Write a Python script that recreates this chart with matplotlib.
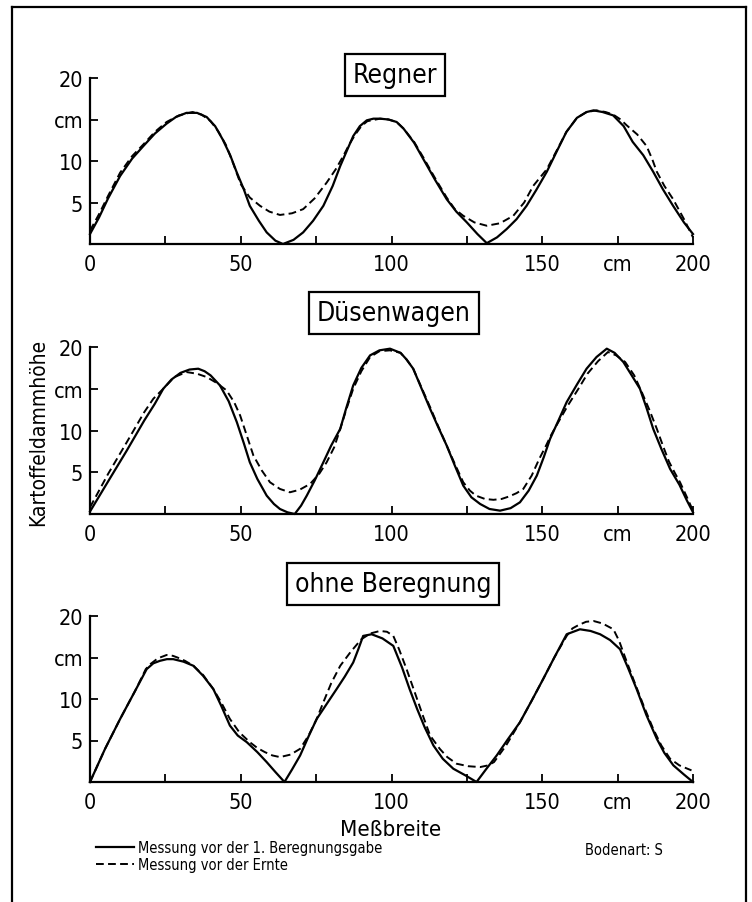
import matplotlib.pyplot as plt
from matplotlib.lines import Line2D

plt.rcParams['font.family'] = ['DejaVu Sans']
plt.rcParams['font.stretch'] = 'condensed'

W, H = 752, 903

titles = ["Regner", "Düsenwagen", "ohne Beregnung"]
label_solid = "Messung vor der 1. Beregnungsgabe"
label_dash = "Messung vor der Ernte"

reg_x1 = [0, 3, 6, 10, 14, 17.7, 21.5, 25.4, 28.5, 32, 35.5, 38.7, 41.5, 44, 46.5, 48.6, 51, 53, 56,
          58.6, 61.5, 64, 67.5, 70.7, 74, 77.4, 80.5, 83, 85.5, 87.3, 89.5, 91.8, 94, 96.2, 99,
          101.7, 104, 107.5, 110.6, 114.5, 118.3, 121.5, 125, 128.5, 131.6, 135, 138.2, 141.5,
          144.8, 148, 151.5, 155, 158, 161.5, 164.7, 167, 170, 173.5, 177, 180, 183.5, 186.8,
          190, 193.4, 197, 200]
reg_y1 = [1.2, 3.2, 5.5, 8.2, 10.3, 11.8, 13.3, 14.5, 15.3, 15.8, 15.8, 15.3, 14.2, 12.6, 10.7, 8.7,
          6.6, 4.6, 2.8, 1.4, 0.4, 0, 0.5, 1.4, 2.8, 4.6, 7, 9.4, 11.5, 13, 14.2, 14.9, 15.1, 15.1,
          15, 14.7, 13.9, 12.2, 10.2, 7.7, 5.4, 3.9, 2.6, 1.2, 0.1, 0.8, 1.8, 3, 4.6, 6.5, 8.7,
          11.3, 13.5, 15.2, 15.9, 16.1, 15.9, 15.5, 14.2, 12.3, 10.7, 8.7, 6.6, 4.6, 2.6, 1.2]
reg_x2 = [0, 3, 6, 10, 14, 17.7, 21.5, 25.4, 29.5, 34, 37, 40, 42.5, 45, 47.5, 50, 53, 56.4, 59.5,
          63, 67, 70.7, 74.5, 78.5, 81.5, 84, 86, 88, 90, 92, 96.2, 99, 101.7, 104, 107.5, 110.6,
          114.5, 118.3, 121, 123.8, 127.5, 131.6, 136, 140.4, 144, 147, 151.5, 155, 158, 161.5,
          164.7, 168, 171, 173.5, 176, 178, 181.5, 184.6, 186.5, 188, 190.5, 193.4, 197, 200]
reg_y2 = [1.6, 3.6, 5.8, 8.6, 10.6, 12, 13.5, 14.7, 15.5, 15.9, 15.6, 14.8, 13.6, 12, 9.7, 7.2, 5.6,
          4.6, 3.9, 3.5, 3.7, 4.2, 5.5, 7.4, 9, 10.6, 12, 13.2, 14.2, 14.8, 15.1, 15, 14.7, 13.9,
          12.3, 10.4, 7.9, 5.6, 4.2, 3.4, 2.6, 2.2, 2.5, 3.4, 5, 7, 9, 11.4, 13.5, 15.2, 15.9,
          16.1, 15.9, 15.6, 15, 14.3, 13.2, 11.8, 10.2, 8.7, 7, 5.4, 3, 0.8]

dus_x1 = [0, 6, 12.2, 18, 21.5, 24.3, 27, 30, 33, 35.9, 38, 40, 43.1, 46, 48.7, 51, 53, 55.5, 58.6,
          61, 63, 65.5, 67.9, 70, 71.9, 74.5, 77.4, 80, 83, 85, 87.3, 90, 92.9, 96, 99.5, 103,
          105, 107.2, 110, 112.8, 115.5, 118.3, 121, 123.8, 126.5, 129.4, 132.5, 136, 139.5,
          142.6, 145.5, 148.2, 150.5, 152.6, 155.5, 158.1, 161.5, 164.7, 168, 171.4, 174, 176.9,
          179.5, 182.4, 184.5, 186.8, 189.5, 192.4, 195.5, 198, 200]
dus_y1 = [0.3, 3.9, 7.6, 11.2, 13.2, 15, 16.1, 16.9, 17.3, 17.4, 17.1, 16.6, 15.4, 13.5, 11, 8.5,
          6.2, 4.2, 2.2, 1.2, 0.6, 0.2, 0, 1, 2.2, 4, 6.2, 8.2, 10.2, 12.7, 15.4, 17.5, 19, 19.6,
          19.8, 19.3, 18.5, 17.4, 15, 12.6, 10.4, 8.2, 5.8, 3.4, 2, 1.2, 0.6, 0.4, 0.7, 1.4, 2.8,
          4.6, 6.8, 9, 11.3, 13.4, 15.5, 17.4, 18.8, 19.8, 19.3, 18.2, 16.7, 15, 12.8, 10.2, 7.8,
          5.4, 3.5, 1.6, 0.2]
dus_x2 = [0, 6, 12.2, 18, 21, 24.3, 28, 32, 35.5, 38.7, 42, 45.3, 47.8, 49.8, 52, 54.2, 57, 59.7,
          63, 66.3, 69.5, 73, 76, 78.5, 81, 83, 85, 87.3, 90, 92.9, 96, 99.5, 103, 105, 107.2,
          110, 112.8, 115.5, 118.3, 121, 123.8, 126, 128, 131, 133.8, 136.5, 139, 141.5, 143.7,
          146.5, 149, 151, 153, 155.8, 158.5, 162, 165, 168.5, 171.8, 174.5, 177.5, 180.5, 183,
          185.5, 188, 190, 192, 194, 195.7, 198, 200]
dus_y2 = [0.8, 4.8, 8.6, 12.2, 13.8, 15, 16.4, 17, 16.8, 16.4, 15.7, 14.8, 13.4, 11.8, 9.4, 7, 5.2,
          3.8, 3, 2.6, 2.9, 3.6, 4.8, 6.2, 8, 10.2, 12.5, 15, 17.1, 18.8, 19.5, 19.6, 19.3, 18.5,
          17.4, 15.1, 12.8, 10.5, 8.2, 6, 3.8, 2.8, 2.2, 1.8, 1.7, 1.8, 2.1, 2.5, 3, 4.6, 6.6, 8,
          9.5, 11.3, 13, 15, 16.8, 18.3, 19.4, 19, 18.2, 16.6, 14.6, 12.5, 10.2, 8.2, 6.3, 4.9,
          3.8, 2, 0.4]

ohne_x1 = [0, 5, 10, 15, 18.8, 21, 23.2, 25.5, 27.6, 31, 34.3, 37.5, 40.9, 43.5, 46.4, 49, 52,
           55.5, 58.6, 61.5, 64.5, 67, 69.7, 72.5, 75.2, 78.5, 81.8, 84.5, 87.3, 89, 90.6, 93.4,
           97, 100.6, 103.5, 106, 108.5, 111, 113.9, 117, 120.5, 124.5, 128.2, 131.5, 134.9,
           138.5, 142.6, 146.5, 150.3, 154, 158.1, 162.5, 166, 169.2, 172.5, 175.8, 178.5,
           181.3, 184.5, 188, 190.5, 193.5, 197, 200]
ohne_y1 = [0, 4, 7.6, 11, 13.6, 14.3, 14.6, 14.8, 14.8, 14.5, 14, 12.8, 11.2, 9.2, 6.8, 5.6, 4.8,
           3.6, 2.4, 1.2, 0, 1.5, 3.2, 5.5, 7.6, 9.4, 11.2, 12.7, 14.4, 16, 17.6, 17.8, 17.3,
           16.4, 13.8, 11.2, 8.8, 6.6, 4.4, 2.8, 1.6, 0.8, 0, 1.6, 3.2, 5.1, 7.2, 9.8, 12.4, 15,
           17.8, 18.4, 18.2, 17.8, 17.1, 16, 13.7, 11.2, 8.1, 5.2, 3.5, 2, 0.9, 0]
ohne_x2 = [0, 5, 10, 15, 18.5, 20, 22.5, 25.4, 27.5, 29, 31.5, 34.3, 37.5, 40.9, 43.5, 46.4, 49.5,
           53, 55.5, 58, 60.5, 63, 66.5, 69.7, 72.5, 75.2, 77.5, 80, 83, 86.5, 90, 93, 96.2,
           98.5, 100.6, 102.5, 105, 108, 110.5, 112.8, 116, 118.5, 121.6, 125.5, 129.4, 132,
           134, 138, 142.6, 146.5, 150.3, 154, 158.1, 160, 162, 164.5, 167, 170, 173.6, 175.5,
           177.5, 180.2, 183.5, 186.8, 189.5, 192.4, 195.5, 199.5]
ohne_y2 = [0, 4, 7.6, 11, 13.6, 14.2, 14.9, 15.3, 15.2, 15, 14.6, 14, 12.9, 11.2, 9.6, 7.6, 6, 4.8,
           4.1, 3.6, 3.2, 3, 3.3, 4, 5.6, 7.6, 9.7, 11.9, 14, 15.7, 17.2, 17.9, 18.2, 18.1, 17.6,
           16, 13.6, 10.5, 7.9, 5.6, 4, 3, 2.2, 1.9, 1.8, 2, 2.4, 4.4, 7.2, 9.8, 12.4, 15, 17.6,
           18.5, 18.9, 19.3, 19.4, 19.1, 18.4, 17, 15, 12.4, 9.3, 6.4, 4.4, 2.8, 2, 1.4]

xticks = [0, 25, 50, 75, 100, 125, 150, 175, 200]
xticklabels = ["0", "", "50", "", "100", "", "150", "cm", "200"]
yticks = [5, 10, 15, 20]
yticklabels = ["5", "10", "cm", "20"]

series = [(reg_x1, reg_y1, reg_x2, reg_y2),
          (dus_x1, dus_y1, dus_x2, dus_y2),
          (ohne_x1, ohne_y1, ohne_x2, ohne_y2)]

# Layout in Pixeln: Nulllinie, Pixel pro cm, Mitte des Titelkastens
base_px = [245, 515, 783]
scale_px = [8.3, 8.35, 8.3]
title_pos = [(395, 76), (394, 314), (393, 585)]

fig = plt.figure(figsize=(W / 100, H / 100), dpi=100)

for i in range(3):
    ax = fig.add_axes([90 / W, 1 - base_px[i] / H, 603 / W, 21 * scale_px[i] / H])
    x1, y1, x2, y2 = series[i]
    l1, = ax.plot(x1, y1, color='black', lw=1.6, clip_on=False, label=label_solid)
    l2, = ax.plot(x2, y2, color='black', lw=1.4, ls=(0, (4, 2.2)), clip_on=False, label=label_dash)
    ax.set_xlim(0, 200)
    ax.set_ylim(0, 21)
    ax.spines['top'].set_visible(False)
    ax.spines['right'].set_visible(False)
    ax.spines['left'].set_bounds(0, 20)
    for s in ['left', 'bottom']:
        ax.spines[s].set_linewidth(1.6)
    ax.set_xticks(xticks)
    ax.set_xticklabels(xticklabels)
    ax.set_yticks(yticks)
    ax.set_yticklabels(yticklabels)
    ax.tick_params(direction='in', length=6, width=1.3, labelsize=15.5)
    ax.tick_params(axis='x', pad=7)
    ax.tick_params(axis='y', pad=5)
    ax.patch.set_visible(False)
    cx, cy = title_pos[i]
    fig.text(cx / W, 1 - cy / H, titles[i], ha='center', va='center', fontsize=19,
             bbox=dict(boxstyle='square,pad=0.3', fc='white', ec='black', lw=1.6))

fig.text(38 / W, 1 - 432 / H, "Kartoffeldammhöhe", rotation=90, ha='center', va='center', fontsize=15)
fig.text(391 / W, 1 - 830 / H, "Meßbreite", ha='center', va='center', fontsize=16)
fig.text(585 / W, 1 - 851 / H, "Bodenart: S", ha='left', va='center', fontsize=10.5)

fig.legend([l1, l2], [label_solid, label_dash], loc='upper left',
           bbox_to_anchor=(96 / W, 1 - 841 / H), frameon=False, fontsize=10.5,
           handlelength=2.6, handletextpad=0.3, labelspacing=0.15, borderpad=0, borderaxespad=0)

# Rahmen
for xs, ys in [([12, 12], [8, 903]), ([12, 746], [8, 8]), ([746, 746], [8, 903])]:
    fig.add_artist(Line2D([x / W for x in xs], [1 - y / H for y in ys], color='black', lw=1.6))

plt.savefig("out.png", dpi=100)
